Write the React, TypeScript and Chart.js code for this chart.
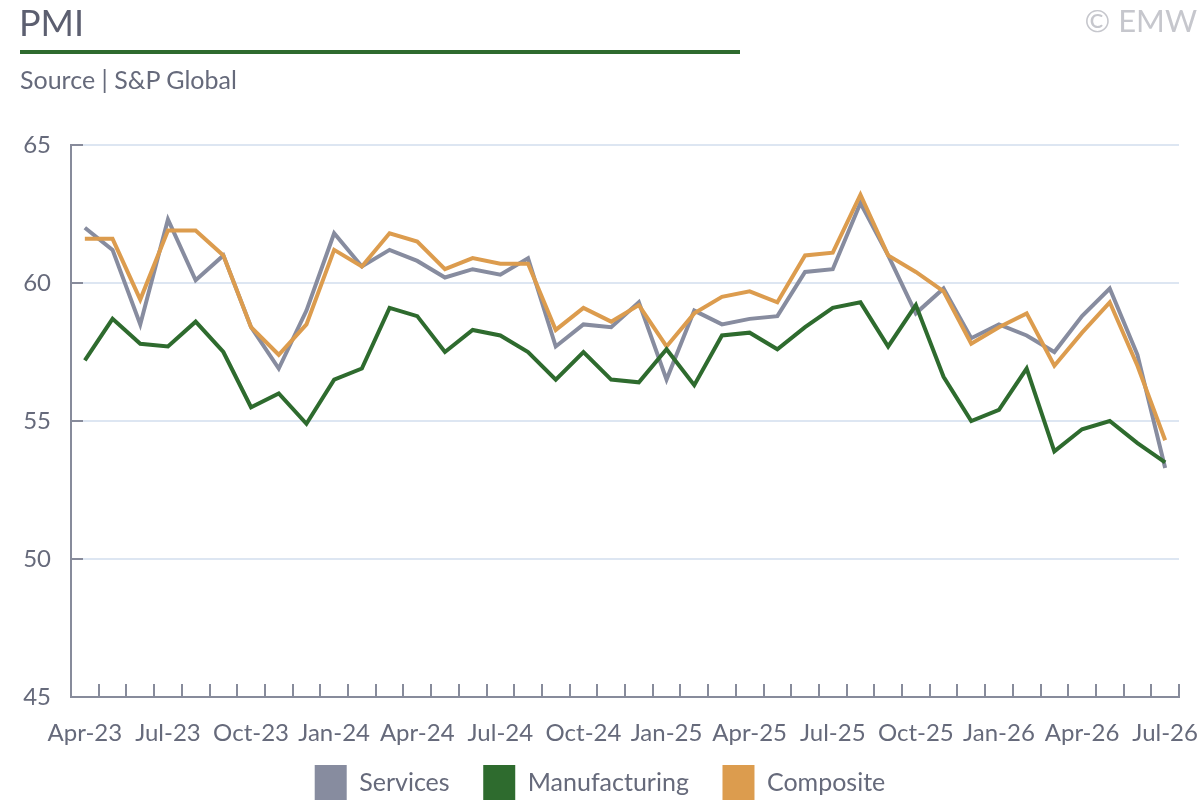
import { useEffect, useRef } from 'react';
import Chart from 'chart.js/auto';

const months = [
  'Apr-23', 'May-23', 'Jun-23', 'Jul-23', 'Aug-23', 'Sep-23', 'Oct-23', 'Nov-23', 'Dec-23',
  'Jan-24', 'Feb-24', 'Mar-24', 'Apr-24', 'May-24', 'Jun-24', 'Jul-24', 'Aug-24', 'Sep-24',
  'Oct-24', 'Nov-24', 'Dec-24', 'Jan-25', 'Feb-25', 'Mar-25', 'Apr-25', 'May-25', 'Jun-25',
  'Jul-25', 'Aug-25', 'Sep-25', 'Oct-25', 'Nov-25', 'Dec-25', 'Jan-26', 'Feb-26', 'Mar-26',
  'Apr-26', 'May-26', 'Jun-26', 'Jul-26',
];

const services = [
  62.0, 61.2, 58.5, 62.3, 60.1, 61.0, 58.4, 56.9, 59.0, 61.8,
  60.6, 61.2, 60.8, 60.2, 60.5, 60.3, 60.9, 57.7, 58.5, 58.4,
  59.3, 56.5, 59.0, 58.5, 58.7, 58.8, 60.4, 60.5, 62.9, 61.0,
  58.9, 59.8, 58.0, 58.5, 58.1, 57.5, 58.8, 59.8, 57.4, 53.3,
];

const manufacturing = [
  57.2, 58.7, 57.8, 57.7, 58.6, 57.5, 55.5, 56.0, 54.9, 56.5,
  56.9, 59.1, 58.8, 57.5, 58.3, 58.1, 57.5, 56.5, 57.5, 56.5,
  56.4, 57.6, 56.3, 58.1, 58.2, 57.6, 58.4, 59.1, 59.3, 57.7,
  59.2, 56.6, 55.0, 55.4, 56.9, 53.9, 54.7, 55.0, 54.2, 53.5,
];

const composite = [
  61.6, 61.6, 59.4, 61.9, 61.9, 61.0, 58.4, 57.4, 58.5, 61.2,
  60.6, 61.8, 61.5, 60.5, 60.9, 60.7, 60.7, 58.3, 59.1, 58.6,
  59.2, 57.7, 58.9, 59.5, 59.7, 59.3, 61.0, 61.1, 63.2, 61.0,
  60.4, 59.7, 57.8, 58.4, 58.9, 57.0, 58.2, 59.3, 57.0, 54.3,
];

const yTicks = [45, 50, 55, 60, 65];

const FONT = 'Lato, "Noto Sans", sans-serif';
const AXIS = '#878b9b';
const GRID = '#dde6f2';
const TEXT = '#666a7b';
const GREY = '#878c9f';
const GREEN = '#2e6b2e';
const ORANGE = '#dc9c4e';
const GAP = '\u00a0\u00a0\u00a0\u00a0';

// small tick marks pointing into the plot area
const innerTicks = {
  id: 'innerTicks',
  beforeDatasetsDraw(chart: any) {
    const { ctx, scales } = chart;
    const x = scales.x;
    const y = scales.y;
    const half = (x.getPixelForValue(1) - x.getPixelForValue(0)) / 2;
    ctx.save();
    ctx.strokeStyle = AXIS;
    ctx.lineWidth = 2;
    ctx.beginPath();
    for (let i = 0; i < months.length; i++) {
      const px = Math.round(x.getPixelForValue(i) + half);
      ctx.moveTo(px, y.bottom);
      ctx.lineTo(px, y.bottom - 13);
    }
    yTicks.forEach((v) => {
      if (v === y.min) return;
      const py = y.getPixelForValue(v);
      ctx.moveTo(x.left, py);
      ctx.lineTo(x.left + 12, py);
    });
    ctx.stroke();
    ctx.restore();
  },
};

export default function App() {
  const canvasRef = useRef<HTMLCanvasElement>(null);
  const chartRef = useRef<Chart | null>(null);

  useEffect(() => {
    const ctx = canvasRef.current?.getContext('2d');
    if (!ctx) return;

    chartRef.current = new Chart(ctx, {
      type: 'line',
      data: {
        labels: months,
        datasets: [
          { label: 'Services', data: services, borderColor: GREY, backgroundColor: GREY, order: 2 },
          { label: 'Manufacturing', data: manufacturing, borderColor: GREEN, backgroundColor: GREEN, order: 0 },
          { label: 'Composite', data: composite, borderColor: ORANGE, backgroundColor: ORANGE, order: 1 },
        ],
      },
      options: {
        responsive: false,
        animation: false,
        layout: { padding: { top: 145, left: 21, right: 21, bottom: 19 } },
        elements: {
          line: { borderWidth: 4, tension: 0, borderJoinStyle: 'miter' },
          point: { radius: 0, hoverRadius: 0 },
        },
        plugins: {
          tooltip: { enabled: false },
          legend: {
            position: 'bottom',
            labels: {
              boxWidth: 32,
              boxHeight: 36,
              padding: 8,
              color: TEXT,
              font: { family: FONT, size: 25 },
              sort: (a: any, b: any) => a.datasetIndex - b.datasetIndex,
              generateLabels: (chart: any) =>
                Chart.defaults.plugins.legend.labels.generateLabels(chart).map((item: any) => ({
                  ...item,
                  lineWidth: 0,
                  text: item.datasetIndex < 2 ? item.text + GAP : item.text,
                })),
            },
          },
        },
        scales: {
          x: {
            offset: true,
            grid: { display: false, drawTicks: true, tickLength: 22 },
            border: { display: true, color: AXIS, width: 2 },
            ticks: {
              autoSkip: false,
              maxRotation: 0,
              padding: 0,
              color: TEXT,
              font: { family: FONT, size: 24 },
              callback: (_v: any, i: number) => (i % 3 === 0 ? months[i] : ''),
            },
            afterFit: (s: any) => {
              s.height = 60;
            },
          },
          y: {
            min: 45,
            max: 65,
            ticks: {
              stepSize: 5,
              padding: 20,
              color: TEXT,
              font: { family: FONT, size: 24 },
            },
            grid: {
              drawTicks: false,
              lineWidth: 2,
              color: (c: any) => (c.tick && c.tick.value === 45 ? 'rgba(0,0,0,0)' : GRID),
            },
            border: { display: true, color: AXIS, width: 2 },
            afterFit: (s: any) => {
              s.width = 50;
            },
          },
        },
      } as any,
      plugins: [innerTicks],
    });

    return () => {
      if (chartRef.current) {
        chartRef.current.destroy();
        chartRef.current = null;
      }
    };
  }, []);

  return (
    <div
      style={{
        position: 'absolute',
        left: 0,
        top: 0,
        width: 1200,
        height: 800,
        overflow: 'hidden',
        background: '#fff',
        fontFamily: FONT,
      }}
    >
      <canvas
        ref={canvasRef}
        width={1200}
        height={830}
        style={{ position: 'absolute', left: 0, top: 0, width: 1200, height: 830 }}
      ></canvas>
      <div style={{ position: 'absolute', left: 19, top: 4, fontSize: 36, lineHeight: '36px', color: '#5c5f70' }}>
        PMI
      </div>
      <div style={{ position: 'absolute', left: 20, top: 50, width: 720, height: 4, background: GREEN }}></div>
      <div style={{ position: 'absolute', left: 20, top: 67, fontSize: 25, lineHeight: '25px', color: TEXT }}>
        Source | S&amp;P Global
      </div>
      <div
        style={{
          position: 'absolute',
          right: 3,
          top: 5,
          fontSize: 31,
          lineHeight: '31px',
          color: '#c6c7cd',
        }}
      >
        © EMW
      </div>
    </div>
  );
}
